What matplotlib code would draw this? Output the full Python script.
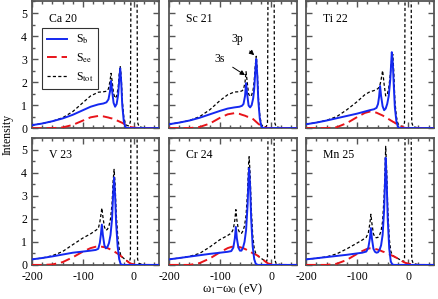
import matplotlib
matplotlib.use("Agg")
import matplotlib.pyplot as plt
from matplotlib.ticker import MultipleLocator

plt.rcParams['font.family'] = ['Liberation Serif', 'DejaVu Serif']
plt.rcParams['mathtext.fontset'] = 'stix'
plt.rcParams['font.size'] = 8.5

panel_labels = ["Ca 20", "Sc 21", "Ti 22", "V 23", "Cr 24", "Mn 25"]
x_ticks = [-200, -100, 0]
y_ticks = [0, 1, 2, 3, 4, 5]

# ---------------- Ca 20 ----------------
X_CA = [-200, -180, -160, -140, -120, -100, -85, -70, -60, -54, -50, -47, -45, -43, -40, -37, -34, -31, -29, -27, -25, -23, -20, -17, -14, -11, -9, -7, -5.5, 5.5, 7, 10, 20, 50]
B_CA = [0.13, 0.20, 0.30, 0.42, 0.58, 0.78, 0.93, 1.03, 1.07, 1.12, 1.25, 1.60, 2.05, 1.65, 1.10, 0.93, 1.05, 1.45, 2.05, 2.60, 2.00, 1.00, 0.30, 0.06, 0.01, 0, 0, 0, 0, 0, 0, 0, 0, 0]
EE_CA = [0, 0, 0, 0.03, 0.14, 0.33, 0.47, 0.53, 0.51, 0.48, 0.46, 0.44, 0.43, 0.42, 0.40, 0.37, 0.34, 0.31, 0.29, 0.27, 0.25, 0.23, 0.19, 0.15, 0.11, 0.08, 0.06, 0.05, 0.04, 0.01, 0.01, 0, 0, 0]
TOT_CA = [0.13, 0.20, 0.30, 0.45, 0.72, 1.11, 1.40, 1.56, 1.58, 1.60, 1.71, 2.04, 2.38, 2.07, 1.50, 1.30, 1.39, 1.76, 2.34, 2.70, 2.25, 1.23, 0.49, 0.21, 0.12, 0.10, 0.12, 0.30, 9.0, 9.0, 0.25, 0.06, 0.01, 0]

# ---------------- Sc 21 ----------------
X_SC = [-200, -180, -160, -140, -120, -100, -85, -72, -62, -57, -54, -51, -49, -47, -44, -41, -38, -35, -33, -31, -29, -27, -25, -22, -19, -16, -12, -9, -7, -5.5, 5.5, 7, 10, 20, 50]
B_SC = [0.17, 0.24, 0.33, 0.45, 0.60, 0.75, 0.85, 0.90, 0.93, 0.97, 1.05, 1.40, 1.95, 1.50, 0.98, 0.90, 1.00, 1.30, 1.70, 2.40, 3.00, 2.30, 1.20, 0.40, 0.08, 0.01, 0, 0, 0, 0, 0, 0, 0, 0, 0]
EE_SC = [0, 0, 0, 0.05, 0.20, 0.45, 0.60, 0.65, 0.62, 0.58, 0.56, 0.54, 0.52, 0.50, 0.49, 0.47, 0.44, 0.39, 0.35, 0.31, 0.27, 0.23, 0.19, 0.14, 0.09, 0.06, 0.03, 0.02, 0.01, 0.01, 0, 0, 0, 0, 0]
TOT_SC = [0.17, 0.24, 0.33, 0.50, 0.80, 1.20, 1.45, 1.57, 1.58, 1.62, 1.68, 2.00, 2.45, 2.05, 1.48, 1.37, 1.44, 1.69, 2.05, 2.71, 3.12, 2.53, 1.39, 0.54, 0.17, 0.07, 0.05, 0.08, 0.25, 9.0, 9.0, 0.25, 0.06, 0.01, 0]

# ---------------- Ti 22 ----------------
X_TI = [-200, -180, -160, -140, -120, -100, -85, -75, -67, -62, -59, -57, -55, -53, -50, -47, -44, -41, -38, -35, -33, -32, -30, -28, -26, -23, -20, -17, -12, -9, -7, -5.5, 5.5, 7, 10, 20, 50]
B_TI = [0.17, 0.24, 0.33, 0.43, 0.53, 0.63, 0.72, 0.78, 0.82, 0.88, 1.05, 1.35, 1.83, 1.40, 0.95, 0.78, 0.85, 1.05, 1.40, 2.10, 2.90, 3.30, 2.80, 1.80, 0.90, 0.30, 0.05, 0, 0, 0, 0, 0, 0, 0, 0, 0, 0]
EE_TI = [0, 0, 0, 0.04, 0.22, 0.48, 0.66, 0.72, 0.70, 0.67, 0.64, 0.62, 0.60, 0.58, 0.55, 0.51, 0.47, 0.43, 0.39, 0.35, 0.32, 0.31, 0.28, 0.26, 0.23, 0.19, 0.15, 0.11, 0.06, 0.03, 0.02, 0.01, 0, 0, 0, 0, 0]
TOT_TI = [0.17, 0.24, 0.34, 0.50, 0.80, 1.15, 1.45, 1.58, 1.63, 1.68, 1.72, 1.78, 1.90, 2.10, 2.50, 1.90, 1.40, 1.45, 1.75, 2.30, 2.80, 3.00, 3.20, 2.40, 1.20, 0.50, 0.20, 0.12, 0.07, 0.10, 0.25, 9.0, 9.0, 0.25, 0.06, 0.01, 0]

# ---------------- V 23 ----------------
X_V = [-200, -180, -160, -140, -120, -100, -85, -75, -70, -67, -65, -63, -61, -58, -55, -52, -49, -46, -43, -41, -39, -37, -35, -32, -29, -26, -22, -17, -12, -9, -7, -5.5, 5.5, 7, 10, 20, 50]
B_V = [0.24, 0.30, 0.37, 0.45, 0.53, 0.58, 0.62, 0.65, 0.70, 0.95, 1.30, 1.75, 1.30, 0.85, 0.72, 0.78, 0.95, 1.30, 2.00, 3.00, 3.80, 3.00, 1.80, 0.80, 0.25, 0.03, 0, 0, 0, 0, 0, 0, 0, 0, 0, 0, 0]
EE_V = [0, 0, 0.02, 0.12, 0.33, 0.58, 0.73, 0.79, 0.80, 0.80, 0.79, 0.79, 0.78, 0.77, 0.75, 0.73, 0.70, 0.67, 0.63, 0.61, 0.59, 0.56, 0.53, 0.49, 0.44, 0.39, 0.32, 0.23, 0.14, 0.09, 0.07, 0.05, 0.01, 0.01, 0, 0, 0]
TOT_V = [0.24, 0.30, 0.40, 0.58, 0.88, 1.17, 1.35, 1.50, 1.58, 1.85, 2.15, 2.47, 2.10, 1.65, 1.50, 1.55, 1.70, 2.00, 2.65, 3.60, 4.15, 3.50, 2.30, 1.30, 0.70, 0.42, 0.32, 0.23, 0.15, 0.12, 0.30, 9.0, 9.0, 0.25, 0.06, 0.01, 0]

# ---------------- Cr 24 ----------------
X_CR = [-200, -180, -160, -140, -120, -100, -85, -78, -74, -71, -69, -67, -64, -61, -58, -55, -52, -49, -46, -44, -43, -41, -39, -36, -33, -30, -26, -22, -17, -12, -9, -7, -5.5, 5.5, 7, 10, 20, 50]
B_CR = [0.24, 0.30, 0.36, 0.42, 0.48, 0.53, 0.57, 0.60, 0.75, 1.15, 1.65, 1.15, 0.75, 0.62, 0.62, 0.75, 1.00, 1.50, 2.60, 3.80, 4.20, 3.40, 2.00, 0.80, 0.25, 0.05, 0, 0, 0, 0, 0, 0, 0, 0, 0, 0, 0, 0]
EE_CR = [0, 0, 0, 0.08, 0.28, 0.55, 0.73, 0.78, 0.80, 0.80, 0.80, 0.79, 0.78, 0.77, 0.75, 0.73, 0.70, 0.67, 0.63, 0.61, 0.60, 0.58, 0.55, 0.51, 0.48, 0.45, 0.40, 0.33, 0.25, 0.16, 0.11, 0.08, 0.06, 0.01, 0.01, 0, 0, 0]
TOT_CR = [0.24, 0.30, 0.37, 0.50, 0.78, 1.10, 1.28, 1.38, 1.55, 1.95, 2.40, 1.95, 1.52, 1.38, 1.37, 1.48, 1.70, 2.15, 3.20, 4.40, 4.70, 3.95, 2.55, 1.30, 0.72, 0.50, 0.40, 0.33, 0.25, 0.17, 0.13, 0.30, 9.0, 9.0, 0.25, 0.06, 0.01, 0]

# ---------------- Mn 25 ----------------
X_MN = [-200, -180, -160, -140, -120, -100, -90, -82, -78, -75, -73, -71, -68, -65, -62, -59, -56, -53, -50, -47, -45, -44, -42, -40, -37, -34, -31, -27, -22, -17, -12, -9, -7, -5.5, 5.5, 7, 10, 20, 50]
B_MN = [0.24, 0.29, 0.34, 0.39, 0.44, 0.50, 0.53, 0.58, 0.75, 1.15, 1.60, 1.15, 0.70, 0.57, 0.53, 0.55, 0.65, 0.85, 1.30, 2.40, 3.80, 4.65, 3.60, 2.00, 0.70, 0.15, 0.02, 0, 0, 0, 0, 0, 0, 0, 0, 0, 0, 0, 0]
EE_MN = [0, 0, 0, 0.05, 0.22, 0.48, 0.60, 0.68, 0.71, 0.72, 0.72, 0.72, 0.71, 0.70, 0.68, 0.66, 0.64, 0.61, 0.58, 0.56, 0.54, 0.53, 0.51, 0.49, 0.46, 0.43, 0.40, 0.36, 0.30, 0.24, 0.17, 0.13, 0.11, 0.09, 0.03, 0.02, 0.01, 0, 0]
TOT_MN = [0.24, 0.29, 0.35, 0.48, 0.70, 0.95, 1.08, 1.20, 1.40, 1.80, 2.20, 1.80, 1.35, 1.20, 1.18, 1.20, 1.30, 1.48, 1.90, 3.00, 4.30, 5.15, 4.10, 2.50, 1.15, 0.60, 0.42, 0.36, 0.30, 0.24, 0.17, 0.14, 0.30, 9.0, 9.0, 0.25, 0.06, 0.01, 0]

X_ALL = [X_CA, X_SC, X_TI, X_V, X_CR, X_MN]
B_ALL = [B_CA, B_SC, B_TI, B_V, B_CR, B_MN]
EE_ALL = [EE_CA, EE_SC, EE_TI, EE_V, EE_CR, EE_MN]
TOT_ALL = [TOT_CA, TOT_SC, TOT_TI, TOT_V, TOT_CR, TOT_MN]

for xs, b, e, t in zip(X_ALL, B_ALL, EE_ALL, TOT_ALL):
    assert len(xs) == len(b) == len(e) == len(t), (len(xs), len(b), len(e), len(t))

spine_col = '#555555'

fig = plt.figure(figsize=(4.38, 2.99), dpi=100)
gs = fig.add_gridspec(2, 3, left=0.073, right=0.99, bottom=0.114, top=0.995,
                      wspace=0.075, hspace=0.08)

for i in range(6):
    r, c = divmod(i, 3)
    ax = fig.add_subplot(gs[r, c])
    xs = X_ALL[i]
    ax.plot(xs, TOT_ALL[i], color='black', lw=0.9, dashes=(2.5, 1.8), label=r'S$_{\rm tot}$', zorder=2)
    ax.plot(xs, EE_ALL[i], color='#e8141a', lw=1.4, dashes=(5, 2.5), label=r'S$_{\rm ee}$', zorder=3)
    ax.plot(xs, B_ALL[i], color='#1428f0', lw=1.4, label=r'S$_{\rm b}$', zorder=4)
    ax.set_xlim(-200, 50)
    ax.set_ylim(0, 5.5)
    ax.xaxis.set_major_locator(MultipleLocator(100))
    ax.xaxis.set_minor_locator(MultipleLocator(20))
    ax.yaxis.set_major_locator(MultipleLocator(1))
    ax.yaxis.set_minor_locator(MultipleLocator(0.5))
    ax.tick_params(which='both', direction='in', top=True, right=True,
                   color=spine_col, width=1.0, labelsize=8.5)
    ax.tick_params(axis='x', pad=4.5)
    ax.tick_params(axis='y', pad=3.5)
    ax.tick_params(which='major', length=4)
    ax.tick_params(which='minor', length=2)
    for s in ax.spines.values():
        s.set_color(spine_col)
        s.set_linewidth(1.3)
    if c != 0:
        ax.set_yticklabels([])
    else:
        ax.set_yticks(y_ticks)
    if r == 0:
        ax.set_xticklabels([])
    else:
        ax.set_xticks(x_ticks)
        ax.set_xticklabels([str(v) for v in x_ticks])
    ax.text(0.13, 0.865, panel_labels[i], transform=ax.transAxes,
            fontsize=8.5, va='center', ha='left')
    if i == 0:
        h, l = ax.get_legend_handles_labels()
        leg = ax.legend(h[::-1], l[::-1], loc='upper left', bbox_to_anchor=(0.078, 0.79),
                        borderaxespad=0,
                        frameon=True, fancybox=False, edgecolor='black',
                        handlelength=1.7, handletextpad=0.8, labelspacing=0.45,
                        borderpad=0.4, fontsize=8.5)
        leg.get_frame().set_linewidth(0.8)
    if i == 1:
        ax.annotate('3s', xy=(-51, 2.3), xytext=(-100, 3.0),
                    ha='center', va='center', fontsize=8.5,
                    arrowprops=dict(arrowstyle='-|>', color='black', lw=0.7,
                                    mutation_scale=7, shrinkA=4, shrinkB=0))
        ax.annotate('3p', xy=(-33, 3.17), xytext=(-67, 3.85),
                    ha='center', va='center', fontsize=8.5,
                    arrowprops=dict(arrowstyle='-|>', color='black', lw=0.7,
                                    mutation_scale=7, shrinkA=4, shrinkB=0))

fig.text(0.018, 0.55, 'Intensity', rotation=90, ha='center', va='center', fontsize=8.5)
fig.text(0.532, 0.006, r'ω$_1$−ω$_0$ (eV)', ha='center', va='bottom', fontsize=9)

fig.savefig('out.png', dpi=100)
